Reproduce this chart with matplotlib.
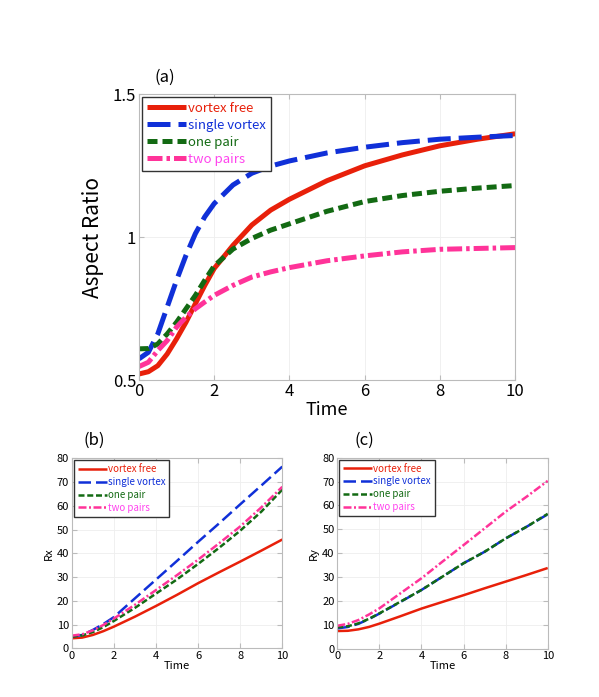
import numpy as np
import matplotlib
matplotlib.use('Agg')
import matplotlib.pyplot as plt

plt.rcParams['font.family'] = ['Noto Sans CJK JP', 'DejaVu Sans']

# donnees
t = [0, 0.25, 0.5, 0.75, 1, 1.25, 1.5, 1.75, 2, 2.5, 3, 3.5, 4, 5, 6, 7, 8, 9, 10]
ar_free = [0.521, 0.529, 0.55, 0.591, 0.644, 0.702, 0.767, 0.831, 0.89, 0.971, 1.042, 1.094,
           1.132, 1.197, 1.249, 1.287, 1.319, 1.342, 1.361]
ar_single = [0.574, 0.597, 0.661, 0.755, 0.849, 0.936, 1.012, 1.071, 1.117, 1.182, 1.223, 1.248,
             1.266, 1.294, 1.314, 1.33, 1.342, 1.349, 1.355]
ar_pair = [0.609, 0.61, 0.626, 0.661, 0.702, 0.749, 0.796, 0.849, 0.899, 0.958, 0.995, 1.024,
           1.046, 1.09, 1.124, 1.145, 1.16, 1.171, 1.18]
ar_two = [0.547, 0.562, 0.603, 0.638, 0.685, 0.72, 0.749, 0.773, 0.796, 0.831, 0.86, 0.878,
          0.893, 0.917, 0.934, 0.948, 0.957, 0.96, 0.963]

tt = [0, 0.5, 1, 1.5, 2, 3, 4, 5, 6, 7, 8, 9, 10]
rx_free = [4.2, 4.5, 5.6, 7.2, 9.1, 13.3, 17.8, 22.5, 27.4, 32.0, 36.5, 41.1, 45.8]
rx_single = [4.9, 5.6, 7.7, 10.2, 13.1, 21.0, 28.9, 36.8, 44.8, 52.6, 60.6, 68.5, 76.5]
rx_pair = [4.9, 5.4, 6.8, 8.9, 11.5, 17.0, 23.0, 29.0, 35.5, 42.3, 49.5, 57.5, 66.8]
rx_two = [5.3, 5.9, 7.5, 9.8, 12.5, 18.3, 24.5, 30.8, 37.3, 44.2, 51.3, 59.3, 68.0]

ry_free = [7.4, 7.5, 8.1, 9.1, 10.5, 13.6, 16.8, 19.6, 22.4, 25.3, 28.1, 30.9, 33.8]
ry_single = [8.5, 9.1, 10.4, 12.4, 14.7, 19.6, 24.6, 30.2, 35.8, 40.6, 46.2, 51.1, 56.3]
ry_pair = [8.9, 9.4, 10.6, 12.5, 14.8, 19.7, 24.6, 30.2, 35.8, 40.6, 46.2, 51.1, 56.5]
ry_two = [9.6, 10.4, 12.0, 14.3, 16.9, 23.2, 29.5, 36.5, 43.4, 50.4, 57.4, 63.7, 70.3]

labels = ['vortex free', 'single vortex', 'one pair', 'two pairs']
cols = ['#e8200a', '#1030d8', '#136a13', '#ff3399']
txtcols = ['#e8200a', '#1030d8', '#136a13', '#ff44ee']
dash_big = [None, (4.6, 1.6), (2.0, 1.0), (3.0, 0.8, 0.7, 0.8)]
dash_small = [None, (5.0, 2.0), (2.4, 1.1), (3.2, 1.0, 0.8, 1.0)]


def draw(ax, x, ys, lw, fs, dashes):
    for y, c, d, lab in zip(ys, cols, dashes, labels):
        l, = ax.plot(x, y, color=c, lw=lw, label=lab, solid_capstyle='butt')
        if d is not None:
            l.set_dashes(d)
    leg = ax.legend(loc='upper left', fontsize=fs, fancybox=False, framealpha=1,
                    handlelength=3.0, handletextpad=0.1, borderpad=0.4,
                    labelspacing=0.3, borderaxespad=0.2)
    leg.get_frame().set_edgecolor('#333333')
    leg.get_frame().set_linewidth(1.0)
    for txt, c in zip(leg.get_texts(), txtcols):
        txt.set_color(c)
    ax.grid(True, color='#eeeeee', lw=0.6)
    ax.tick_params(direction='in', top=True, right=True, color='#bbbbbb',
                   labelsize=fs + 1, pad=2)
    for s in ax.spines.values():
        s.set_color('#bbbbbb')
    ax.set_xlim(0, 10)
    ax.set_xticks([0, 2, 4, 6, 8, 10])


fig = plt.figure(figsize=(5.99, 6.97), dpi=100)

ax1 = fig.add_axes([0.232, 0.4548, 0.628, 0.4103])
draw(ax1, t, [ar_free, ar_single, ar_pair, ar_two], 3.6, 9.5, dash_big)
ax1.set_ylim(0.5, 1.5)
ax1.set_yticks([0.5, 1, 1.5])
ax1.set_yticklabels(['0.5', '1', '1.5'])
ax1.tick_params(labelsize=12)
ax1.set_xlabel('Time', fontsize=13, labelpad=1)
ax1.set_ylabel('Aspect Ratio', fontsize=15, labelpad=6)
fig.text(0.258, 0.882, '(a)', fontsize=12)

ax2 = fig.add_axes([0.1197, 0.0699, 0.3516, 0.2726])
draw(ax2, tt, [rx_free, rx_single, rx_pair, rx_two], 1.8, 7, dash_small)
ax2.set_ylim(0, 80)
ax2.set_xlabel('Time', fontsize=8, labelpad=0)
ax2.set_ylabel('Rx', fontsize=8, labelpad=2)
fig.text(0.139, 0.362, '(b)', fontsize=12)

ax3 = fig.add_axes([0.5631, 0.0693, 0.3513, 0.274])
draw(ax3, tt, [ry_free, ry_single, ry_pair, ry_two], 1.8, 7, dash_small)
ax3.set_ylim(0, 80)
ax3.set_xlabel('Time', fontsize=8, labelpad=0)
ax3.set_ylabel('Ry', fontsize=8, labelpad=2)
fig.text(0.591, 0.362, '(c)', fontsize=12)

plt.savefig('out.png', dpi=100)
